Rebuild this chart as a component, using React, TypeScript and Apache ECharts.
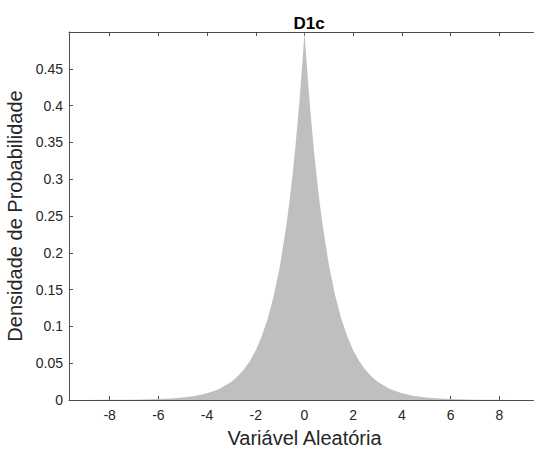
import React, { useEffect, useRef } from "react";
import * as echarts from "echarts";

const chartTitle = "D1c";
const xAxisTitle = "Variável Aleatória";
const yAxisTitle = "Densidade de Probabilidade";
const xTicks = [-8, -6, -4, -2, 0, 2, 4, 6, 8];
const xValues = [
  -9.67, -9, -8, -7, -6, -5.5, -5, -4.5, -4, -3.5, -3, -2.75, -2.5, -2.25, -2, -1.75, -1.5, -1.25, -1, -0.75,
  -0.625, -0.5, -0.375, -0.25, -0.175, -0.1, -0.05, 0,
  0.05, 0.1, 0.175, 0.25, 0.375, 0.5, 0.625, 0.75, 1, 1.25, 1.5, 1.75, 2, 2.25, 2.5, 2.75, 3, 3.5, 4, 4.5, 5,
  5.5, 6, 7, 8, 9, 9.67,
];
const densityValues = [
  0.00003, 0.00006, 0.00017, 0.00046, 0.0012, 0.002, 0.0034, 0.0056, 0.0092, 0.0151, 0.0249, 0.032, 0.041,
  0.0527, 0.0677, 0.0869, 0.1116, 0.1433, 0.1839, 0.2362, 0.2676, 0.3033, 0.3436, 0.3894, 0.4197, 0.4524,
  0.4756, 0.5,
  0.4756, 0.4524, 0.4197, 0.3894, 0.3436, 0.3033, 0.2676, 0.2362, 0.1839, 0.1433, 0.1116, 0.0869, 0.0677,
  0.0527, 0.041, 0.032, 0.0249, 0.0151, 0.0092, 0.0056, 0.0034, 0.002, 0.0012, 0.00046, 0.00017, 0.00006,
  0.00003,
];

const FONT = "'Liberation Sans', Arial, sans-serif";
const AXIS_COLOR = "#4d4d4d";
const TEXT_COLOR = "#262626";

export default function App() {
  const ref = useRef<HTMLDivElement>(null);
  useEffect(() => {
    if (!ref.current) return;
    const chart = echarts.init(ref.current, null, { renderer: "svg" });
    const data = xValues.map((x, i) => [x, densityValues[i]]);
    const xMin = -9.67;
    const xMax = 9.67;
    chart.setOption({
      animation: false,
      backgroundColor: "#ffffff",
      title: {
        text: chartTitle,
        left: 304,
        top: 10,
        textAlign: "center",
        textStyle: { fontFamily: FONT, fontSize: 17, fontWeight: "bold", color: "#000" },
      },
      grid: { left: 69, right: -6, top: 32, bottom: 50, containLabel: false, outerBoundsMode: "none" },
      xAxis: [
        {
          type: "value",
          min: xMin,
          max: xMax,
          position: "bottom",
          name: xAxisTitle,
          nameLocation: "middle",
          nameGap: 28,
          nameTextStyle: { fontFamily: FONT, fontSize: 20, color: TEXT_COLOR, lineHeight: 20 },
          axisLine: { show: true, onZero: false, lineStyle: { color: AXIS_COLOR, width: 1 } },
          axisTick: { show: true, inside: true, length: 4, customValues: xTicks, lineStyle: { color: AXIS_COLOR } },
          axisLabel: {
            customValues: xTicks,
            fontFamily: FONT,
            fontSize: 14,
            color: TEXT_COLOR,
            margin: 8,
            formatter: (v: number) => String(v),
          },
          splitLine: { show: false },
        },
        {
          type: "value",
          min: xMin,
          max: xMax,
          position: "top",
          axisLine: { show: true, onZero: false, lineStyle: { color: AXIS_COLOR, width: 1 } },
          axisTick: { show: true, inside: true, length: 4, customValues: xTicks, lineStyle: { color: AXIS_COLOR } },
          axisLabel: { show: false },
          splitLine: { show: false },
        },
      ],
      yAxis: {
        type: "value",
        min: 0,
        max: 0.5,
        interval: 0.05,
        name: yAxisTitle,
        nameLocation: "middle",
        nameGap: 33,
        nameTextStyle: { fontFamily: FONT, fontSize: 20, color: TEXT_COLOR, lineHeight: 20 },
        axisLine: { show: true, onZero: false, lineStyle: { color: AXIS_COLOR, width: 1 } },
        axisTick: { show: true, inside: true, length: 4, lineStyle: { color: AXIS_COLOR } },
        axisLabel: {
          fontFamily: FONT,
          fontSize: 14,
          color: TEXT_COLOR,
          margin: 6,
          formatter: (v: number) => (v >= 0.499 ? "" : String(parseFloat(v.toFixed(2)))),
        },
        splitLine: { show: false },
      },
      series: [
        {
          type: "line",
          data,
          xAxisIndex: 0,
          symbol: "none",
          smooth: false,
          lineStyle: { width: 0, color: "#bfbfbf" },
          areaStyle: { color: "#bfbfbf", opacity: 1 },
          z: 1,
        },
      ],
    });
    return () => chart.dispose();
  }, []);
  return <div ref={ref} style={{ width: 534, height: 450, position: "absolute", left: 0, top: 0 }} />;
}
